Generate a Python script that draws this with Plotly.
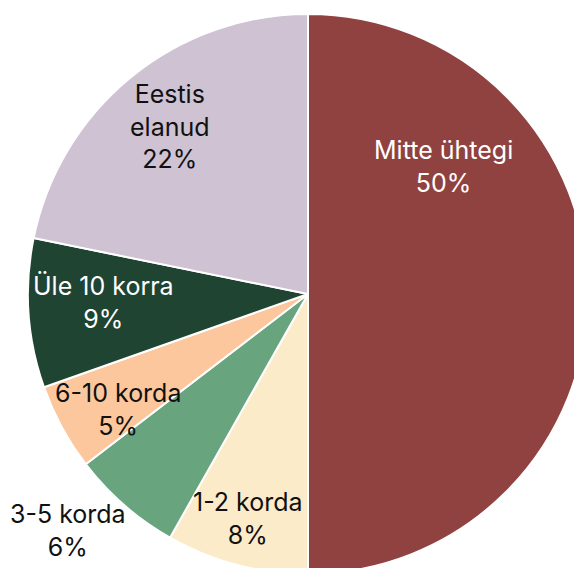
import plotly.graph_objects as go

# slice data, clockwise from 12 o'clock (shares)
labels = ["Mitte ühtegi", "1-2 korda", "3-5 korda", "6-10 korda", "Üle 10 korra", "Eestis<br>elanud"]
values = [50.0, 8.2, 6.4, 5.0, 8.6, 21.8]
colors = ["#904240", "#FBEBC8", "#68A57F", "#FCC79D", "#1F4432", "#CFC2D3"]
text_colors = ["white", "#111111", "#111111", "#111111", "white", "#111111"]

# label centres in pixels (page is bigger than the window, pie is cropped like the source)
W, H = 588, 574
label_px = [(444, 166), (248, 518), (68, 530), (118, 409), (103, 302), (170, 127)]

fig = go.Figure(go.Pie(
    labels=labels, values=values, sort=False, direction="clockwise", rotation=0,
    marker=dict(colors=colors, line=dict(color="white", width=2)),
    textinfo="none", hoverinfo="label+percent",
    domain=dict(x=[28 / W, 1], y=[0, 1 - 14 / H]),
))

total = sum(values)
for lab, val, tc, (px, py) in zip(labels, values, text_colors, label_px):
    fig.add_annotation(
        x=px / W, y=1 - py / H, xref="paper", yref="paper",
        xanchor="center", yanchor="middle",
        text=f"{lab}<br>{round(100 * val / total)}%", showarrow=False, align="center",
        font=dict(family="Inter", size=25, color=tc),
    )

fig.update_layout(
    width=W, height=H, margin=dict(l=0, r=0, t=0, b=0),
    showlegend=False, paper_bgcolor="white", plot_bgcolor="white",
)

fig.write_html("out.html", config={"displayModeBar": False},
               post_script="document.body.style.margin='0';document.body.style.overflow='hidden';")
